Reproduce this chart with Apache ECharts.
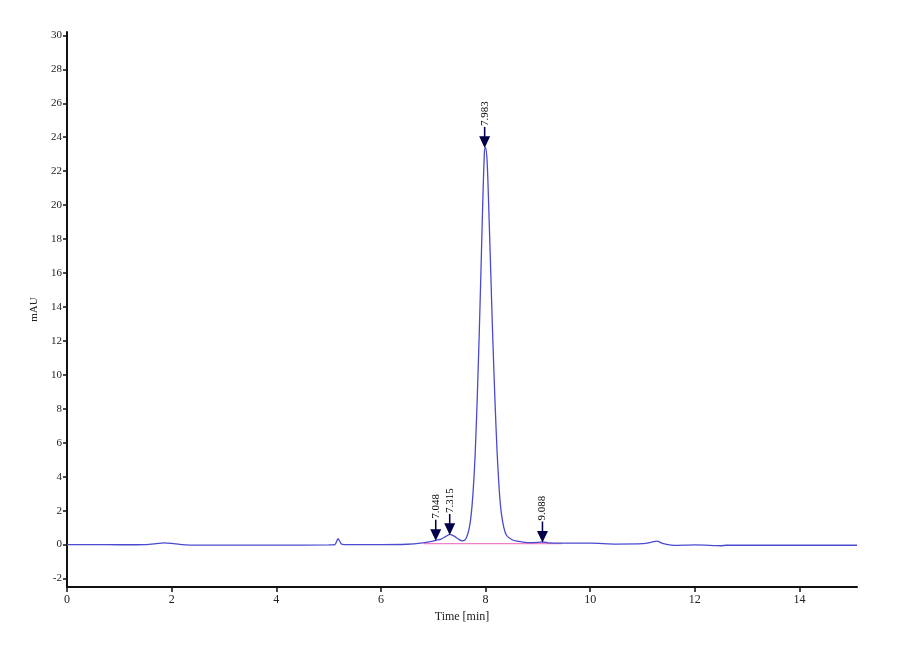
<!DOCTYPE html>
<html>
<head>
<meta charset="utf-8">
<script src="https://cdn.jsdelivr.net/npm/echarts@6/dist/echarts.min.js"></script>
<style>html,body{margin:0;padding:0;background:#fff}#c{width:900px;height:660px}</style>
</head>
<body>
<div id="c"></div>
<script>
// Chromatogram trace (time in min, signal in mAU)
const times = [0, 0.5, 1.0, 1.5, 1.7, 1.85, 2.0, 2.2, 2.5, 3.0, 4.0, 5.0, 5.12, 5.18, 5.24, 5.3, 6.0, 6.5, 6.8,
  7.0, 7.05, 7.15, 7.25, 7.32, 7.4, 7.48, 7.55, 7.6, 7.64, 7.68, 7.72, 7.76, 7.80, 7.84, 7.88, 7.92, 7.95, 7.98, 8.0,
  8.03, 8.06, 8.10, 8.14, 8.18, 8.22, 8.26, 8.30, 8.35, 8.40, 8.5, 8.6, 8.8, 9.0, 9.09, 9.2, 9.5, 10.0, 10.5,
  11.0, 11.15, 11.27, 11.4, 11.6, 12.0, 12.4, 12.5, 12.6, 13.0, 14.0, 15.1];
const signal = [0.0, 0.0, -0.01, 0.0, 0.05, 0.1, 0.07, 0.0, -0.03, -0.03, -0.03, -0.02, 0.0, 0.35, 0.05, 0.0, 0.0, 0.02, 0.1,
  0.2, 0.25, 0.32, 0.5, 0.6, 0.5, 0.33, 0.22, 0.25, 0.45, 0.85, 1.6, 3.0, 5.2, 8.5, 12.5, 17.0, 20.5, 23.2, 23.4,
  22.6, 20.0, 16.0, 12.0, 8.5, 5.5, 3.3, 1.9, 1.0, 0.55, 0.3, 0.2, 0.12, 0.13, 0.15, 0.1, 0.08, 0.08, 0.03,
  0.05, 0.12, 0.2, 0.05, -0.05, -0.02, -0.06, -0.07, -0.04, -0.04, -0.04, -0.04];
// integration baseline
const baseTimes = [6.82, 9.45];
const baseValues = [0.05, 0.05];
// labelled peaks
const peakTimes = [7.048, 7.315, 7.983, 9.088];
const peakValues = [0.25, 0.6, 23.4, 0.15];
const peakLabels = ['7.048', '7.315', '7.983', '9.088'];
// ticks
const xTicks = [0, 2, 4, 6, 8, 10, 12, 14];
const yTicks = [-2, 0, 2, 4, 6, 8, 10, 12, 14, 16, 18, 20, 22, 24, 26, 28, 30];

const trace = times.map((t, i) => [t, signal[i]]);
const base = baseTimes.map((t, i) => [t, baseValues[i]]);
const peaks = peakTimes.map((t, i) => ({ value: [t, peakValues[i]], name: peakLabels[i] }));

const font = 'Liberation Serif';
const chart = echarts.init(document.getElementById('c'));
chart.setOption({
  animation: false,
  backgroundColor: '#ffffff',
  grid: { left: 67, right: 43, top: 32, bottom: 73 },
  xAxis: {
    type: 'value', min: 0, max: 15.1,
    name: 'Time [min]', nameLocation: 'middle', nameGap: 22,
    nameTextStyle: { fontFamily: font, fontSize: 12, color: '#222' },
    axisLine: { onZero: false, lineStyle: { color: '#111', width: 2 } },
    axisTick: { customValues: xTicks, length: 5, lineStyle: { color: '#111', width: 1.5 } },
    axisLabel: { customValues: xTicks, fontFamily: font, fontSize: 12, color: '#222', margin: 7 },
    splitLine: { show: false }
  },
  yAxis: {
    type: 'value', min: -2.5, max: 30.2,
    name: 'mAU', nameLocation: 'middle', nameGap: 24, nameRotate: 90,
    nameTextStyle: { fontFamily: font, fontSize: 11, color: '#222' },
    axisLine: { show: true, onZero: false, lineStyle: { color: '#111', width: 2 } },
    axisTick: { show: true, customValues: yTicks, length: 4, lineStyle: { color: '#111', width: 1.5 } },
    axisLabel: { customValues: yTicks, fontFamily: font, fontSize: 11, color: '#222', margin: 5 },
    splitLine: { show: false }
  },
  series: [
    {
      type: 'line', data: base, symbol: 'none',
      lineStyle: { color: '#f080c8', width: 1.2 }, z: 2
    },
    {
      type: 'line', data: trace, symbol: 'none', smooth: 0.25,
      lineStyle: { color: '#4a4ad0', width: 1.3 }, z: 3
    },
    {
      type: 'scatter', data: peaks, z: 4,
      symbol: 'path://M4.3,0 L5.7,0 L5.7,9 L10,9 L5,20 L0,9 L4.3,9 Z',
      symbolSize: [11, 21], symbolOffset: [0, -10],
      itemStyle: { color: '#00004a', opacity: 1 },
      label: {
        show: true, formatter: p => p.name, position: 'top', distance: 1,
        rotate: 90, align: 'left', verticalAlign: 'middle',
        fontFamily: font, fontSize: 11, color: '#000'
      }
    }
  ]
});
</script>
</body>
</html>
